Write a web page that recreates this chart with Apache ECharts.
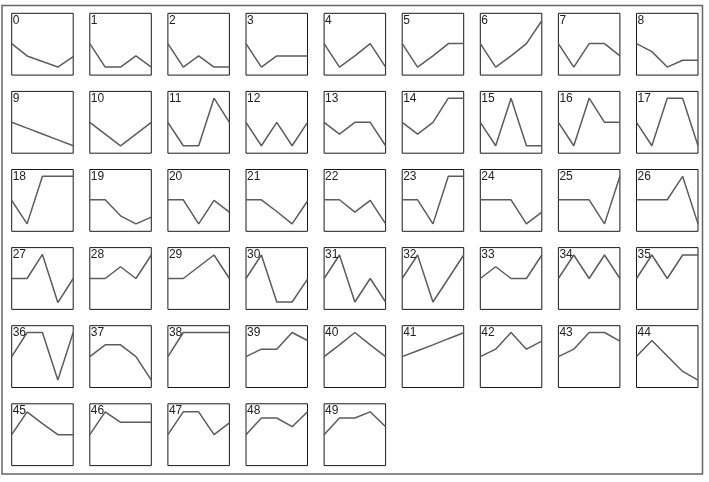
<!DOCTYPE html>
<html>
<head>
<meta charset="utf-8">
<script src="https://cdn.jsdelivr.net/npm/echarts@6/dist/echarts.min.js"></script>
<style>
  html, body { margin: 0; padding: 0; background: #fff; }
  #main { width: 709px; height: 482px; }
</style>
</head>
<body>
<div id="main"></div>
<script>
// x positions (five steps per panel)
const xCategories = ['0', '1', '2', '3', '4'];

// values per panel (scale 0..100 of the panel height)
const row1Values = [
  [51, 31, 22, 13, 30],
  [51, 13, 13, 31, 13],
  [51, 13, 31, 13, 13],
  [51, 13, 31, 31, 31],
  [51, 13, 31, 51, 13],
  [51, 13, 31, 51, 51],
  [51, 13, 31, 51, 88],
  [51, 13, 51, 51, 31],
  [51, 38, 13, 24, 24]
];
const row2Values = [
  [50, 40.5, 31, 21.5, 12],
  [50, 31, 12, 31, 50],
  [50, 12, 12, 89, 50],
  [50, 12, 50, 12, 50],
  [50, 31, 50, 50, 12],
  [50, 31, 50, 89, 89],
  [50, 12, 89, 12, 12],
  [50, 12, 89, 50, 50],
  [50, 12, 89, 89, 12]
];
const row3Values = [
  [50, 12, 89, 89, 89],
  [51, 51, 25, 12, 23],
  [51, 51, 12, 50, 31],
  [51, 51, 32, 12, 49],
  [51, 51, 31, 50, 12],
  [51, 51, 12, 89, 89],
  [51, 51, 51, 12, 31],
  [51, 51, 51, 12, 89],
  [51, 51, 51, 89, 12]
];
const row4Values = [
  [50, 50, 89, 11, 50],
  [50, 50, 69, 50, 88],
  [50, 50, 69, 88, 50],
  [50, 88, 12, 12, 49],
  [50, 88, 12, 50, 12],
  [50, 88, 12, 50, 88],
  [50, 69, 50, 50, 88],
  [50, 88, 50, 88, 50],
  [50, 88, 50, 88, 88]
];
const row5Values = [
  [50, 89, 89, 12, 89],
  [50, 69, 69, 50, 12],
  [50, 89, 89, 89, 89],
  [50, 62, 62, 89, 76],
  [50, 69, 89, 69, 50],
  [50, 59.5, 69, 79, 88.5],
  [50, 62, 89, 62, 75],
  [50, 62, 89, 89, 75],
  [50, 76, 51, 26, 12]
];
const row6Values = [
  [50, 87, 68, 50, 50],
  [50, 87, 70, 70, 70],
  [50, 87, 87, 50, 69],
  [50, 77, 77, 63, 87],
  [50, 77, 77, 87, 63]
];

const panelValues = [].concat(row1Values, row2Values, row3Values, row4Values, row5Values, row6Values);
const panelLabels = panelValues.map((_, i) => String(i));

// layout
const COLS = 9;
const LEFT0 = 11.7, TOP0 = 13.3, STEP_X = 78.1, STEP_Y = 78.1, W = 61.5, H = 61.8;

const grids = [], xAxes = [], yAxes = [], series = [], titles = [];
panelValues.forEach((vals, i) => {
  const c = i % COLS, r = Math.floor(i / COLS);
  const left = LEFT0 + c * STEP_X, top = TOP0 + r * STEP_Y;
  grids.push({
    show: true, left: left, top: top, width: W, height: H,
    borderColor: '#1a1a1a', borderWidth: 1, backgroundColor: 'transparent'
  });
  xAxes.push({ type: 'category', gridIndex: i, data: xCategories, boundaryGap: false, show: false });
  yAxes.push({ type: 'value', gridIndex: i, min: 0, max: 100, show: false });
  series.push({
    type: 'line', xAxisIndex: i, yAxisIndex: i, data: vals,
    symbol: 'none', silent: true, animation: false,
    lineStyle: { color: '#5c5c5c', width: 1.5 }
  });
  titles.push({
    text: panelLabels[i], left: left + 1, top: top + 1, padding: 0,
    textStyle: { fontSize: 12, fontWeight: 'normal', color: '#222', fontFamily: 'Liberation Sans, Arial, sans-serif' }
  });
});

const chart = echarts.init(document.getElementById('main'), null, { renderer: 'canvas' });
chart.setOption({
  animation: false,
  backgroundColor: '#fff',
  title: titles,
  grid: grids,
  xAxis: xAxes,
  yAxis: yAxes,
  series: series,
  graphic: [{
    type: 'rect', silent: true, z: -1,
    shape: { x: 2, y: 5.5, width: 700.5, height: 468.5 },
    style: { fill: 'none', stroke: '#666', lineWidth: 1.5 }
  }]
});
</script>
</body>
</html>
